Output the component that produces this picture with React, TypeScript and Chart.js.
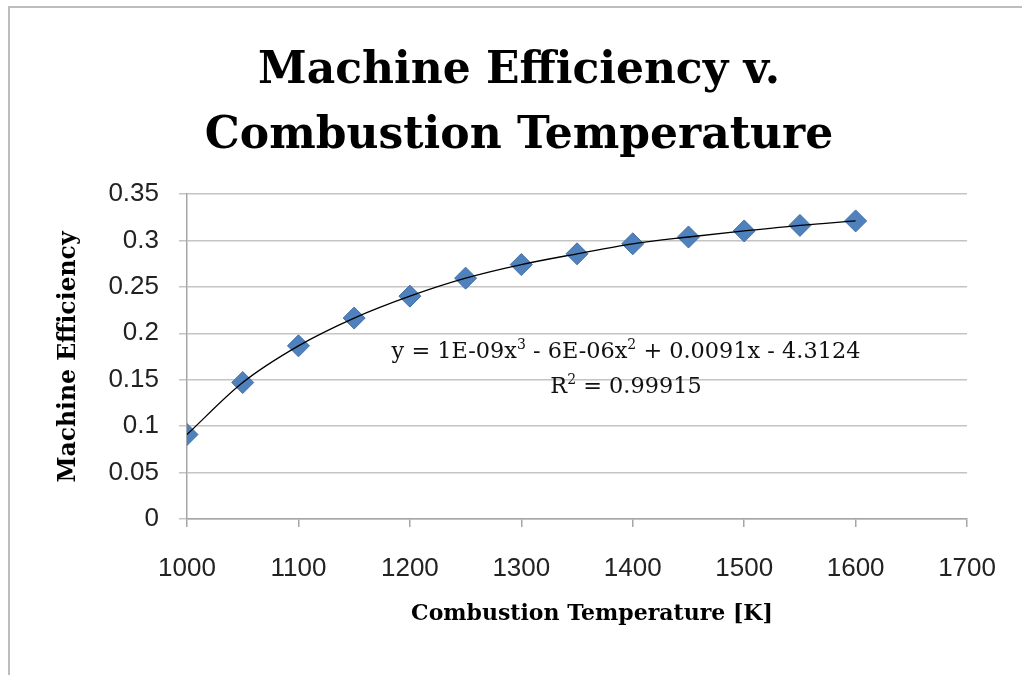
import React, { useEffect, useRef } from "react";
import { Chart, registerables } from "chart.js";

Chart.register(...registerables);

const temperatures = [1000, 1050, 1100, 1150, 1200, 1250, 1300, 1350, 1400, 1450, 1500, 1550, 1600];
const efficiency = [0.091, 0.147, 0.1865, 0.2164, 0.240, 0.2594, 0.274, 0.2856, 0.2964, 0.3037, 0.3102, 0.3162, 0.321];
const titleLines = ["Machine Efficiency v.", "Combustion Temperature"];
const xAxisTitle = "Combustion Temperature [K]";
const yAxisTitle = "Machine Efficiency";
const equationParts = [
  { t: "y = 1E-09x", sup: false },
  { t: "3", sup: true },
  { t: " - 6E-06x", sup: false },
  { t: "2", sup: true },
  { t: " + 0.0091x - 4.3124", sup: false },
];
const r2Parts = [
  { t: "R", sup: false },
  { t: "2", sup: true },
  { t: " = 0.99915", sup: false },
];

const SERIF = "'DejaVu Serif', 'Liberation Serif', serif";
const SANS = "'Liberation Sans', Arial, sans-serif";

function drawParts(ctx: CanvasRenderingContext2D, parts: { t: string; sup: boolean }[], cx: number, baseline: number, size: number) {
  const base = `${size}px ${SERIF}`;
  const small = `${Math.round(size * 0.62)}px ${SERIF}`;
  let total = 0;
  const widths = parts.map((p) => {
    ctx.font = p.sup ? small : base;
    const w = ctx.measureText(p.t).width;
    total += w;
    return w;
  });
  let x = cx - total / 2;
  ctx.textAlign = "left";
  ctx.textBaseline = "alphabetic";
  parts.forEach((p, i) => {
    ctx.font = p.sup ? small : base;
    ctx.fillText(p.t, x, p.sup ? baseline - size * 0.38 : baseline);
    x += widths[i];
  });
}

const decorPlugin = {
  id: "decor",
  afterDraw(chart: any) {
    const ctx = chart.ctx as CanvasRenderingContext2D;
    ctx.save();
    // outer frame
    ctx.strokeStyle = "#bdbdbd";
    ctx.lineWidth = 2;
    ctx.beginPath();
    ctx.moveTo(9, 675);
    ctx.lineTo(9, 7);
    ctx.lineTo(1022, 7);
    ctx.stroke();

    ctx.fillStyle = "#000";
    // chart title
    ctx.textAlign = "center";
    ctx.textBaseline = "alphabetic";
    ctx.font = `bold 44px ${SERIF}`;
    ctx.fillText(titleLines[0], 519, 83);
    ctx.fillText(titleLines[1], 519, 148);

    // x axis title
    ctx.font = `bold 22px ${SERIF}`;
    ctx.fillText(xAxisTitle, 592, 620);

    // y axis title
    ctx.save();
    ctx.translate(75, 357);
    ctx.rotate(-Math.PI / 2);
    ctx.font = `bold 23.5px ${SERIF}`;
    ctx.fillText(yAxisTitle, 0, 0);
    ctx.restore();

    // trendline equation
    ctx.fillStyle = "#111";
    drawParts(ctx, equationParts, 626, 358, 22.4);
    drawParts(ctx, r2Parts, 626, 393, 22.4);
    ctx.restore();
  },
};

export default function App() {
  const ref = useRef<HTMLCanvasElement | null>(null);
  useEffect(() => {
    if (!ref.current) return;
    const points = temperatures.map((x, i) => ({ x, y: efficiency[i] }));
    const chart = new Chart(ref.current, {
      type: "scatter",
      data: {
        datasets: [
          {
            label: "Trendline",
            data: points,
            showLine: true,
            borderColor: "#000",
            borderWidth: 1.3,
            pointRadius: 0,
            cubicInterpolationMode: "monotone",
            order: 0,
          } as any,
          {
            label: "Efficiency",
            data: points,
            showLine: false,
            pointStyle: "rectRot",
            pointRadius: 11,
            backgroundColor: "#4F81BD",
            borderColor: "#4470A8",
            borderWidth: 1,
            order: 1,
          } as any,
        ],
      },
      options: {
        animation: false,
        responsive: true,
        maintainAspectRatio: false,
        layout: { padding: { left: 0, top: 194, right: 52, bottom: 0 } },
        plugins: { legend: { display: false }, tooltip: { enabled: false }, title: { display: false } },
        scales: {
          x: {
            type: "linear",
            min: 1000,
            max: 1700,
            ticks: {
              stepSize: 100,
              padding: 26,
              color: "#222",
              font: { family: SANS, size: 26 },
              callback: (v: any) => String(v),
            },
            grid: { drawOnChartArea: false, drawTicks: true, tickLength: 8, color: "#a6a6a6", lineWidth: 1.5 },
            border: { color: "#a6a6a6", width: 1.5 },
            afterFit: (s: any) => { s.height = 156; },
          },
          y: {
            min: 0,
            max: 0.35,
            ticks: {
              stepSize: 0.05,
              padding: 20,
              color: "#222",
              font: { family: SANS, size: 26 },
              callback: (v: any) => String(Number(Number(v).toFixed(2))),
            },
            grid: { drawOnChartArea: true, drawTicks: true, tickLength: 8, color: "#c4c4c4", lineWidth: 1.5 },
            border: { color: "#a6a6a6", width: 1.5 },
            afterFit: (s: any) => { s.width = 187; },
          },
        },
      },
      plugins: [decorPlugin],
    });
    return () => chart.destroy();
  }, []);
  return (
    <div style={{ position: "absolute", left: 0, top: 0, width: 1022, height: 675, background: "#fff" }}>
      <canvas ref={ref} />
    </div>
  );
}
